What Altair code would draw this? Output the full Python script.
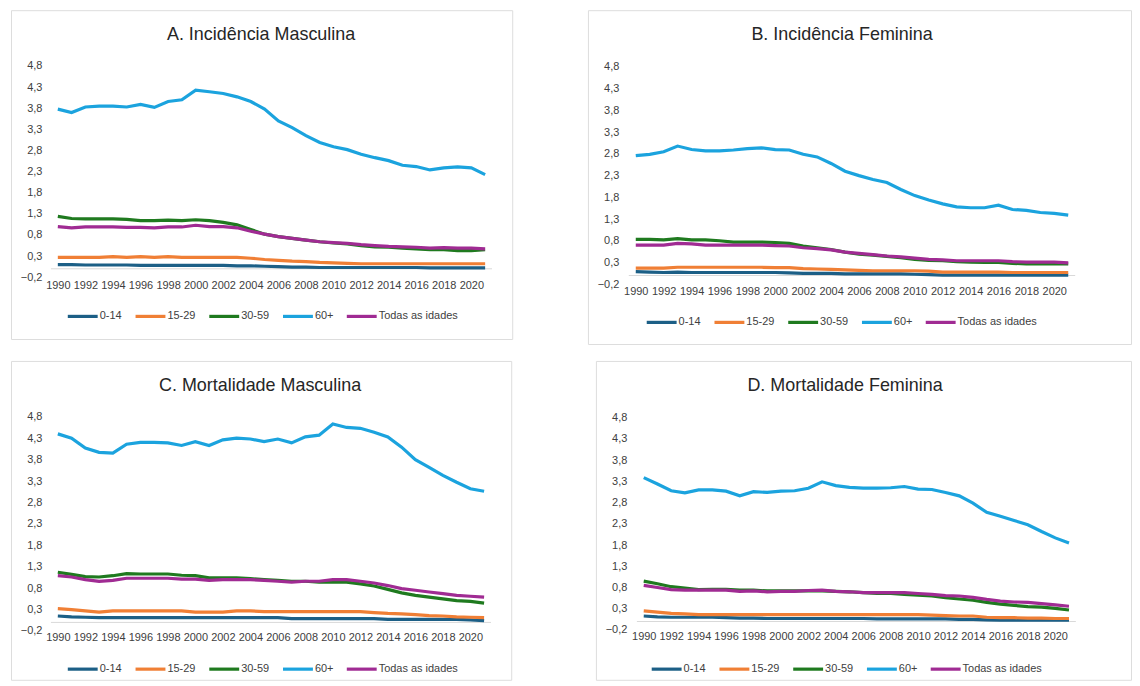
import altair as alt
import pandas as pd

FONT = "Liberation Sans"
LABEL_COLOR = "#404040"
TITLE_COLOR = "#262626"
BORDER = "#D9D9D9"

years = list(range(1990, 2022))
series = ["0-14", "15-29", "30-59", "60+", "Todas as idades"]
colors = ["#1C5F86", "#F07F35", "#1F7A1F", "#1BA3DE", "#A02B93"]
x_ticks = list(range(1990, 2021, 2))
y_ticks = [-0.2, 0.3, 0.8, 1.3, 1.8, 2.3, 2.8, 3.3, 3.8, 4.3, 4.8]
axis_start = 1989.5
axis_end = 2021.5

titles = ["A. Incidência Masculina", "B. Incidência Feminina",
          "C. Mortalidade Masculina", "D. Mortalidade Feminina"]

# A. Incidência Masculina
a_0_14 = [0.10,0.10,0.09,0.09,0.09,0.09,0.08,0.08,0.08,0.08,0.08,0.08,0.08,0.07,0.07,0.06,0.05,0.04,0.04,0.03,0.03,0.03,0.03,0.03,0.03,0.03,0.03,0.02,0.02,0.02,0.02,0.02]
a_15_29 = [0.27,0.27,0.27,0.27,0.29,0.27,0.29,0.27,0.29,0.27,0.27,0.27,0.27,0.27,0.25,0.22,0.20,0.18,0.17,0.15,0.14,0.13,0.12,0.12,0.12,0.12,0.12,0.12,0.12,0.12,0.12,0.12]
a_30_59 = [1.24,1.19,1.18,1.18,1.18,1.17,1.14,1.14,1.15,1.14,1.16,1.14,1.10,1.04,0.93,0.82,0.76,0.72,0.68,0.64,0.61,0.59,0.55,0.52,0.51,0.49,0.47,0.45,0.45,0.43,0.43,0.45]
a_60 = [3.78,3.70,3.83,3.85,3.85,3.83,3.89,3.82,3.96,4.00,4.23,4.19,4.15,4.07,3.96,3.78,3.50,3.34,3.15,2.99,2.89,2.82,2.71,2.63,2.56,2.45,2.42,2.34,2.39,2.41,2.39,2.23]
a_todas = [1.00,0.97,0.99,0.99,0.99,0.98,0.98,0.97,0.99,0.99,1.03,1.00,1.00,0.97,0.89,0.82,0.76,0.72,0.68,0.64,0.62,0.60,0.57,0.55,0.53,0.52,0.51,0.49,0.50,0.49,0.49,0.47]

# B. Incidência Feminina
b_0_14 = [0.09,0.08,0.07,0.08,0.07,0.07,0.07,0.07,0.07,0.07,0.07,0.06,0.05,0.05,0.05,0.04,0.04,0.04,0.04,0.04,0.03,0.02,0.01,0.01,0.01,0.01,0.01,0.01,0.01,0.01,0.01,0.01]
b_15_29 = [0.17,0.17,0.17,0.19,0.19,0.19,0.19,0.19,0.19,0.19,0.18,0.18,0.16,0.15,0.14,0.13,0.12,0.11,0.11,0.11,0.11,0.10,0.08,0.08,0.08,0.08,0.08,0.07,0.07,0.07,0.07,0.07]
b_30_59 = [0.83,0.83,0.82,0.85,0.82,0.82,0.80,0.77,0.77,0.77,0.76,0.74,0.68,0.64,0.60,0.54,0.49,0.47,0.44,0.41,0.37,0.35,0.34,0.32,0.31,0.30,0.30,0.28,0.27,0.27,0.27,0.27]
b_60 = [2.76,2.79,2.85,2.98,2.90,2.87,2.87,2.89,2.92,2.94,2.90,2.89,2.79,2.73,2.58,2.40,2.30,2.21,2.14,1.98,1.84,1.74,1.65,1.58,1.56,1.56,1.62,1.52,1.50,1.45,1.43,1.39]
b_todas = [0.70,0.70,0.70,0.74,0.73,0.70,0.70,0.70,0.70,0.70,0.69,0.68,0.64,0.62,0.59,0.54,0.51,0.48,0.45,0.43,0.40,0.37,0.36,0.34,0.34,0.34,0.34,0.32,0.31,0.31,0.31,0.29]

# C. Mortalidade Masculina
c_0_14 = [0.15,0.13,0.12,0.11,0.11,0.11,0.11,0.11,0.11,0.11,0.11,0.11,0.11,0.11,0.11,0.11,0.11,0.09,0.09,0.09,0.09,0.09,0.09,0.09,0.07,0.07,0.07,0.07,0.07,0.07,0.06,0.04]
c_15_29 = [0.32,0.30,0.27,0.24,0.27,0.27,0.27,0.27,0.27,0.27,0.24,0.24,0.24,0.27,0.27,0.25,0.25,0.25,0.25,0.25,0.25,0.25,0.25,0.23,0.21,0.20,0.18,0.16,0.15,0.13,0.12,0.11]
c_30_59 = [1.17,1.12,1.07,1.06,1.09,1.14,1.13,1.13,1.13,1.10,1.09,1.04,1.04,1.04,1.02,1.00,0.98,0.96,0.96,0.94,0.94,0.94,0.90,0.85,0.77,0.69,0.63,0.59,0.55,0.51,0.49,0.45]
c_60 = [4.40,4.30,4.07,3.97,3.95,4.16,4.20,4.20,4.19,4.13,4.22,4.13,4.26,4.30,4.28,4.22,4.28,4.19,4.33,4.37,4.63,4.55,4.53,4.44,4.33,4.09,3.80,3.62,3.43,3.27,3.12,3.06]
c_todas = [1.09,1.06,1.00,0.96,0.98,1.03,1.03,1.03,1.03,1.01,1.01,0.98,1.00,1.00,1.00,0.98,0.96,0.94,0.96,0.96,1.00,1.00,0.96,0.92,0.86,0.79,0.75,0.71,0.67,0.63,0.61,0.59]

# D. Mortalidade Feminina
d_0_14 = [0.13,0.11,0.10,0.10,0.10,0.10,0.09,0.08,0.08,0.07,0.07,0.07,0.07,0.07,0.07,0.07,0.07,0.06,0.06,0.06,0.06,0.06,0.06,0.05,0.05,0.04,0.03,0.03,0.03,0.03,0.03,0.03]
d_15_29 = [0.25,0.22,0.19,0.18,0.16,0.16,0.16,0.16,0.16,0.16,0.16,0.16,0.16,0.16,0.16,0.16,0.16,0.16,0.16,0.16,0.16,0.15,0.14,0.13,0.13,0.10,0.09,0.09,0.08,0.08,0.07,0.07]
d_30_59 = [0.95,0.89,0.82,0.79,0.75,0.76,0.76,0.74,0.74,0.72,0.72,0.72,0.72,0.72,0.71,0.70,0.68,0.66,0.66,0.64,0.62,0.60,0.56,0.53,0.50,0.45,0.41,0.38,0.35,0.34,0.31,0.27]
d_60 = [3.39,3.24,3.08,3.03,3.10,3.10,3.07,2.96,3.06,3.04,3.07,3.08,3.14,3.29,3.20,3.16,3.14,3.14,3.15,3.18,3.12,3.11,3.04,2.96,2.79,2.57,2.48,2.38,2.28,2.12,1.97,1.85]
d_todas = [0.85,0.80,0.75,0.74,0.74,0.74,0.74,0.71,0.72,0.70,0.71,0.71,0.73,0.74,0.71,0.70,0.68,0.68,0.68,0.68,0.66,0.64,0.61,0.60,0.57,0.52,0.48,0.46,0.45,0.42,0.39,0.36]

panel_series = [
    [a_0_14, a_15_29, a_30_59, a_60, a_todas],
    [b_0_14, b_15_29, b_30_59, b_60, b_todas],
    [c_0_14, c_15_29, c_30_59, c_60, c_todas],
    [d_0_14, d_15_29, d_30_59, d_60, d_todas],
]

# layout (pixels, local to each panel box)
layouts = [
    dict(W=503, H=330, py48=56, pym02=268, px1990=47, px2020=462, tx=251, lx=55, lcy=305, lab=31, lp=11),
    dict(W=545, H=335, py48=57, pym02=275, px1990=48, px2020=468, tx=255, lx=57, lcy=311, lab=31, lp=10),
    dict(W=502, H=320, py48=56, pym02=271, px1990=47, px2020=461, tx=250, lx=55, lcy=307, lab=31, lp=9),
    dict(W=537, H=320, py48=57, pym02=270, px1990=48, px2020=461, tx=250, lx=54, lcy=307, lab=31, lp=9),
]


def make_panel(title, vals, L):
    W, H = L["W"], L["H"]
    ky = (L["pym02"] - L["py48"]) / 5.0
    y_hi = 4.8 + L["py48"] / ky
    y_lo = -0.2 - (H - L["pym02"]) / ky
    kx = (L["px2020"] - L["px1990"]) / 30.0
    x_lo = 1990 - L["px1990"] / kx
    x_hi = 1990 + (W - L["px1990"]) / kx
    y0 = L["pym02"] - 0.2 * ky

    rows = []
    for s, v in zip(series, vals):
        for yr, val in zip(years, v):
            rows.append({"ano": yr, "valor": val, "serie": s})
    df = pd.DataFrame(rows)

    xs = alt.Scale(domain=[x_lo, x_hi], nice=False, zero=False)
    ys = alt.Scale(domain=[y_lo, y_hi], nice=False, zero=False)

    x_axis = alt.Axis(
        values=x_ticks, format="d", orient="bottom", offset=-(H - y0),
        domain=False, ticks=False, tickSize=0, grid=False, labelPadding=L["lp"],
        title=None, labelOverlap=False, labelFlush=False,
        labelFont=FONT, labelFontSize=11, labelColor=LABEL_COLOR)
    y_axis = alt.Axis(
        values=y_ticks, labelExpr="replace(format(datum.value, '.1f'), '.', ',')",
        orient="left", offset=-L["lab"], domain=False, ticks=False, tickSize=0,
        grid=False, labelPadding=0, title=None, labelAlign="right",
        labelFont=FONT, labelFontSize=11, labelColor=LABEL_COLOR)

    lines = alt.Chart(df).mark_line(strokeWidth=3.2).encode(
        x=alt.X("ano:Q", scale=xs, axis=x_axis),
        y=alt.Y("valor:Q", scale=ys, axis=y_axis),
        color=alt.Color("serie:N", scale=alt.Scale(domain=series, range=colors),
                        legend=alt.Legend(
                            orient="none", legendX=L["lx"], legendY=L["lcy"] - 15,
                            direction="horizontal", title=None, symbolType="stroke",
                            symbolSize=900, symbolStrokeWidth=3.2, labelOffset=0,
                            columnPadding=6, padding=0,
                            labelFont=FONT, labelFontSize=11, labelColor=LABEL_COLOR)),
    )

    axis_df = pd.DataFrame({"ano": [axis_start], "ano2": [axis_end], "valor": [0.0]})
    rule = alt.Chart(axis_df).mark_rule(color=BORDER, strokeWidth=1).encode(
        x=alt.X("ano:Q", scale=xs, axis=x_axis),
        x2="ano2:Q",
        y=alt.Y("valor:Q", scale=ys, axis=y_axis),
    )

    t = alt.Chart(pd.DataFrame({"t": [title]})).mark_text(
        font=FONT, fontSize=18, color=TITLE_COLOR, align="center", baseline="middle"
    ).encode(text="t:N", x=alt.value(L["tx"]), y=alt.value(25))

    return alt.layer(rule, lines, t).properties(width=W, height=H)


panels = [make_panel(titles[i], panel_series[i], layouts[i]) for i in range(4)]

row1 = alt.hconcat(panels[0], panels[1], spacing=74).resolve_scale(color="independent")
row2 = alt.hconcat(panels[2], panels[3], spacing=83).resolve_scale(color="independent")

chart = alt.vconcat(row1, row2, spacing=15).resolve_scale(
    color="independent"
).properties(
    padding={"left": 2, "top": 0, "right": 0, "bottom": 0}
).configure_view(
    stroke=BORDER, strokeWidth=1
).configure(background="white")

chart.save("out.html", embed_options={"renderer": "svg", "actions": False})
